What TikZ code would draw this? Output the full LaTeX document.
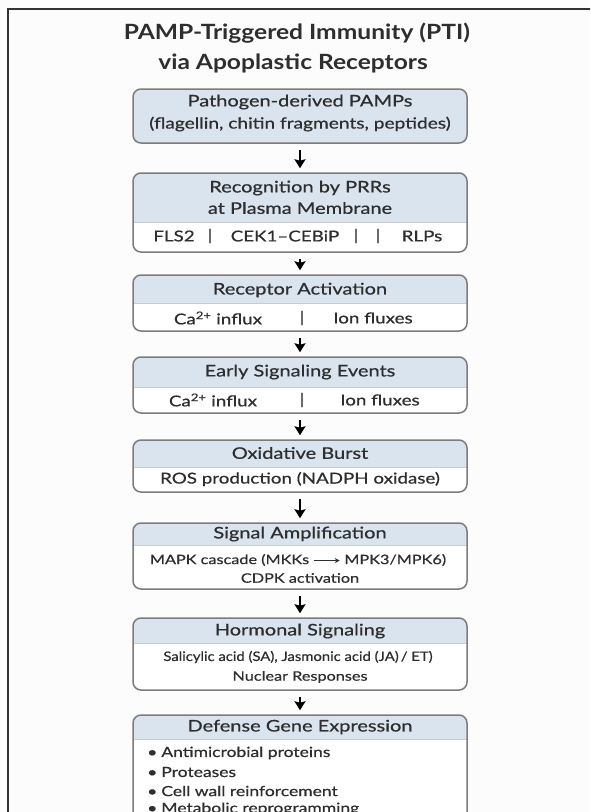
\documentclass[tikz,border=0pt]{standalone}
\usepackage{fontspec}
\setmainfont{Lato}[FakeStretch=1.25, FakeBold=0.6]
\newfontfamily\titlefont{Lato}[FakeStretch=1.17]
\newfontfamily\plainfont{Lato}[FakeStretch=1.14, FakeBold=0.6]
\usetikzlibrary{arrows.meta}
\definecolor{txt}{HTML}{2E2E2E}
\definecolor{hdr}{HTML}{DAE4EF}
\definecolor{bord}{HTML}{7C7C7C}
\definecolor{frame}{HTML}{333333}
\newcommand{\flowbox}[4]{% name, top, header bottom, bottom
  \fill[white, rounded corners=8] (133,-#2) rectangle (467,-#4);
  \fill[hdr] (133,-#3) [rounded corners=8] -- (133,-#2) -- (467,-#2) [sharp corners] -- (467,-#3) -- cycle;
  \draw[bord!40, line width=0.4] (133,-#3) -- (467,-#3);
  \node[boxnode, minimum height={#4-#2}] (#1) at (300,{-(#2+#4)/2}) {};
}
\tikzset{
  boxnode/.style={draw=bord, line width=1.5, rounded corners=8, minimum width=334, inner sep=0, fill=none},
  head/.style={text=txt, font=\fontsize{16}{19}\selectfont, inner sep=0, anchor=center},
  body/.style={text=txt, font=\fontsize{15.3}{18}\selectfont, inner sep=0, anchor=center},
  row/.style={text=txt, font=\fontsize{15}{18}\selectfont, inner sep=0, anchor=center},
  small/.style={text=txt, font=\fontsize{13}{16}\selectfont, inner sep=0, anchor=center},
  bul/.style={text=txt, font=\fontsize{14}{17}\selectfont, inner sep=0, anchor=west},
  flow/.style={-{Stealth[length=9,width=11,inset=1.5]}, line width=1.9, black, shorten <=6, shorten >=4},
}
\begin{document}
\begin{tikzpicture}[x=1pt,y=1pt]
\clip (0,0) rectangle (590,-812);
\fill[white!99!black] (0,0) rectangle (590,-812);
\draw[frame, line width=1.6] (8,-830) -- (8,-9) -- (600,-9);
% title
\node[text=txt, font=\titlefont\bfseries\fontsize{21}{25}\selectfont, inner sep=0] (t1) at (297,-33) {PAMP-Triggered Immunity (PTI)};
\node[text=txt, font=\titlefont\bfseries\fontsize{21}{25}\selectfont, inner sep=0] (t2) at (293,-63) {via Apoplastic Receptors};
% box 1 (fully shaded)
\fill[hdr, rounded corners=8] (133,-89) rectangle (467,-143);
\node[boxnode, minimum height=54] (b1) at (300,-116) {};
\node[head] (b1h) at (300,-102) {Pathogen-derived PAMPs};
\node[body] (b1b) at (300,-124) {(flagellin, chitin fragments, peptides)};
% box 2
\flowbox{b2}{173}{222}{252}
\node[head] (b2h1) at (300,-188) {Recognition by PRRs};
\node[head] (b2h2) at (300,-208) {at Plasma Membrane};
\node[row] (b2c1) at (174,-236) {FLS2};
\node[row] (b2s1) at (210,-236) {|};
\node[row] (b2c2) at (285,-236) {CEK1–CEBiP};
\node[row] (b2s2) at (356,-236) {|};
\node[row] (b2s3) at (378,-236) {|};
\node[row] (b2c3) at (422,-236) {RLPs};
% box 3
\flowbox{b3}{275}{303}{331}
\node[head] (b3h) at (300,-290) {Receptor Activation};
\node[row] (b3c1) at (218,-318) {Ca\textsuperscript{2+} influx};
\node[row] (b3s) at (302,-318) {|};
\node[row] (b3c2) at (373,-318) {Ion fluxes};
% box 4
\flowbox{b4}{357}{387}{413}
\node[head] (b4h) at (300,-372) {Early Signaling Events};
\node[row] (b4c1) at (213,-400) {Ca\textsuperscript{2+} influx};
\node[row] (b4s) at (302,-400) {|};
\node[row] (b4c2) at (380,-400) {Ion fluxes};
% box 5
\flowbox{b5}{440}{467}{492}
\node[head] (b5h) at (300,-453) {Oxidative Burst};
\node[row] (b5b) at (300,-479) {ROS production (NADPH oxidase)};
% box 6
\flowbox{b6}{523}{545}{589}
\node[head] (b6h) at (300,-534) {Signal Amplification};
\node[small] (b6b1) at (298,-560) {MAPK cascade (MKKs \tikz[baseline=-3.5pt]\draw[-{Stealth[length=5,width=5]},line width=0.9] (0,0)--(26,0); MPK3/MPK6)};
\node[small] (b6b2) at (300,-578) {CDPK activation};
% box 7
\flowbox{b7}{618}{643}{690}
\node[head] (b7h) at (300,-631) {Hormonal Signaling};
\node[small, font=\plainfont\fontsize{13}{15}\selectfont] (b7b1) at (298,-657) {Salicylic acid (SA), Jasmonic acid (JA)\,/ ET)};
\node[small] (b7b2) at (300,-677) {Nuclear Responses};
% box 8
\flowbox{b8}{715}{739}{840}
\node[head] (b8h) at (300,-727) {Defense Gene Expression};
\node[bul] (b8l1) at (147,-753) {•\hspace{4pt}Antimicrobial proteins};
\node[bul] (b8l2) at (147,-772) {•\hspace{4pt}Proteases};
\node[bul] (b8l3) at (147,-791) {•\hspace{4pt}Cell wall reinforcement};
\node[bul] (b8l4) at (147,-809) {•\hspace{4pt}Metabolic reprogramming};
% arrows
\draw[flow] (b1.south) -- (b2.north);
\draw[flow] (b2.south) -- (b3.north);
\draw[flow] (b3.south) -- (b4.north);
\draw[flow] (b4.south) -- (b5.north);
\draw[flow] (b5.south) -- (b6.north);
\draw[flow] (b6.south) -- (b7.north);
\draw[flow] (b7.south) -- (b8.north);
\end{tikzpicture}
\end{document}
